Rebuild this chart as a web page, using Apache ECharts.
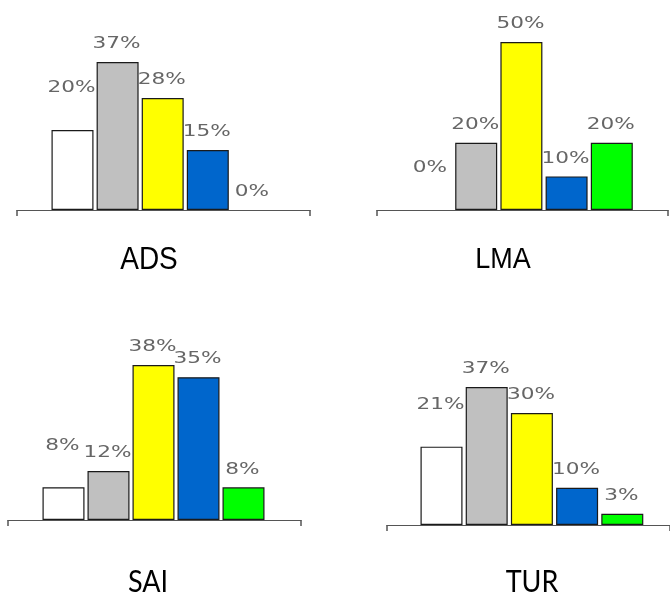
<!DOCTYPE html>
<html><head><meta charset="utf-8">
<script src="https://cdn.jsdelivr.net/npm/echarts@6/dist/echarts.min.js"></script>
<style>html,body{margin:0;padding:0;background:#fff}#c{width:670px;height:592px}</style>
</head><body><div id="c"></div>
<script>
const groups = ['ADS', 'LMA', 'SAI', 'TUR'];
const categories = [0, 1, 2, 3, 4];
const adsValues = [20, 37, 28, 15, 0];
const lmaValues = [0, 20, 50, 10, 20];
const saiValues = [8, 12, 38, 35, 8];
const turValues = [21, 37, 30, 10, 3];
const barColors = ['#ffffff', '#c0c0c0', '#ffff00', '#0066cc', '#00ff00'];

const panels = [
  {name: groups[0], values: adsValues, axisLeft: 17, axisRight: 310, axisY: 210, firstCenter: 72.5, step: 45.1, pxPerPct: 4.0, titleX: 149, titleY: 260, titleFont: '"Liberation Sans"'},
  {name: groups[1], values: lmaValues, axisLeft: 377, axisRight: 668, axisY: 210, firstCenter: 431, step: 45.2, pxPerPct: 3.36, titleX: 503, titleY: 260, titleFont: '"Liberation Sans"'},
  {name: groups[2], values: saiValues, axisLeft: 8, axisRight: 301, axisY: 520, firstCenter: 63.5, step: 45, pxPerPct: 4.08, titleX: 148, titleY: 582, titleFont: 'Lato'},
  {name: groups[3], values: turValues, axisLeft: 387, axisRight: 670, axisY: 525, firstCenter: 441.5, step: 45.2, pxPerPct: 3.73, titleX: 532, titleY: 582, titleFont: 'Lato'}
];

const grid = [], xAxis = [], yAxis = [], series = [], graphic = [];
const H = 200;
panels.forEach((p, k) => {
  const xmin = (p.axisLeft - p.firstCenter) / p.step;
  const xmax = (p.axisRight - p.firstCenter) / p.step;
  grid.push({left: p.axisLeft, top: p.axisY - H, width: p.axisRight - p.axisLeft, height: H});
  xAxis.push({
    type: 'value', gridIndex: k, min: xmin, max: xmax,
    splitLine: {show: false}, axisLabel: {show: false},
    axisLine: {show: true, onZero: false, lineStyle: {color: '#555', width: 1}},
    axisTick: {show: true, customValues: [xmin, xmax], length: 6, inside: false, lineStyle: {color: '#555', width: 1.5}}
  });
  yAxis.push({type: 'value', gridIndex: k, min: 0, max: H / p.pxPerPct, show: false});
  series.push({
    type: 'bar', xAxisIndex: k, yAxisIndex: k, barWidth: 42, silent: true,
    itemStyle: {borderColor: '#1a1a1a', borderWidth: 1.2},
    data: p.values.map((v, i) => ({value: [categories[i], v], itemStyle: {color: barColors[i], borderWidth: v === 0 ? 0 : 1.2}}))
  });
  series.push({
    type: 'custom', xAxisIndex: k, yAxisIndex: k, silent: true, z: 5,
    data: p.values.map((v, i) => [categories[i], v]),
    renderItem: (params, api) => {
      const i = api.value(0), v = api.value(1);
      const pt = api.coord([i, v]);
      const lift = i === 0 ? 42 : 18;
      return {
        type: 'text', x: pt[0] - 1, y: pt[1] - lift, scaleX: 1.35,
        style: {text: v + '%', fill: '#666666', font: '16px "DejaVu Sans"', textAlign: 'center', textVerticalAlign: 'middle'}
      };
    }
  });
  graphic.push({
    type: 'text', x: p.titleX, y: p.titleY, scaleY: 1.12,
    style: {text: p.name, fill: '#000', font: (k === 0 ? '28px ' : '27px ') + p.titleFont, textAlign: 'center', textVerticalAlign: 'middle'}
  });
});

const chart = echarts.init(document.getElementById('c'), null, {renderer: 'canvas'});
chart.setOption({animation: false, backgroundColor: '#fff', grid, xAxis, yAxis, series, graphic});
</script>
</body></html>
